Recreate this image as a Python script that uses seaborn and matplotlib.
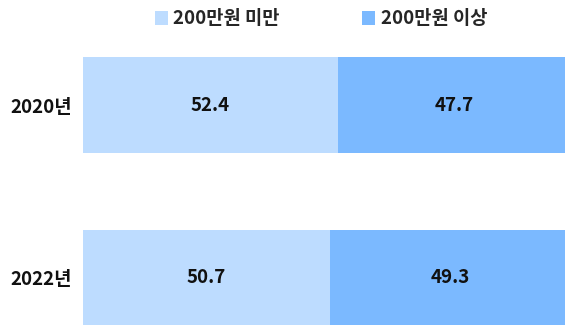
import matplotlib
matplotlib.use("Agg")
import matplotlib.pyplot as plt
from matplotlib.patches import Patch
import seaborn as sns
import pandas as pd

years = ["2020년", "2022년"]
below_200 = [52.4, 50.7]
above_200 = [47.7, 49.3]
series_names = ["200만원 미만", "200만원 이상"]

light = "#BDDCFF"
dark = "#7BB9FF"

sns.set_theme(style="white")
plt.rcParams["font.family"] = ["Noto Sans CJK KR", "DejaVu Sans"]

df = pd.DataFrame({"year": years, "below": below_200, "above": above_200})
df["total"] = df["below"] + df["above"]

fig = plt.figure(figsize=(5.65, 3.25), dpi=100)
ax = fig.add_axes([83 / 565, 0.0, 1 - 83 / 565, 285 / 325])

bar_h = 0.555
sns.barplot(data=df, y="year", x="total", orient="h", color=dark,
            width=bar_h, saturation=1, linewidth=0, ax=ax)
sns.barplot(data=df, y="year", x="below", orient="h", color=light,
            width=bar_h, saturation=1, linewidth=0, ax=ax)

fs = 13.5
for i, row in df.iterrows():
    ax.text(row["below"] / 2, i, f"{row['below']:.1f}", ha="center", va="center",
            fontsize=fs, fontweight="bold", color="#111111")
    ax.text(row["below"] + row["above"] / 2, i, f"{row['above']:.1f}", ha="center",
            va="center", fontsize=fs, fontweight="bold", color="#111111")

ax.set_xlim(0, 99)
ax.set_ylim(1.272, -0.376)
ax.set_xlabel("")
ax.set_ylabel("")
ax.set_xticks([])
ax.tick_params(axis="y", length=0, pad=8)
for lbl in ax.get_yticklabels():
    lbl.set_fontsize(fs)
    lbl.set_fontweight("bold")
    lbl.set_color("#111111")
for s in ax.spines.values():
    s.set_visible(False)

handles = [Patch(facecolor=light, edgecolor="none"), Patch(facecolor=dark, edgecolor="none")]
fig.legend(handles, series_names, loc="center", bbox_to_anchor=(321 / 565, 1 - 19 / 325),
           ncol=2, frameon=False, handlelength=0.7, handleheight=0.7, handletextpad=0.3,
           columnspacing=4.4, prop={"size": fs, "weight": "bold"})

fig.savefig("out.png", dpi=100)
